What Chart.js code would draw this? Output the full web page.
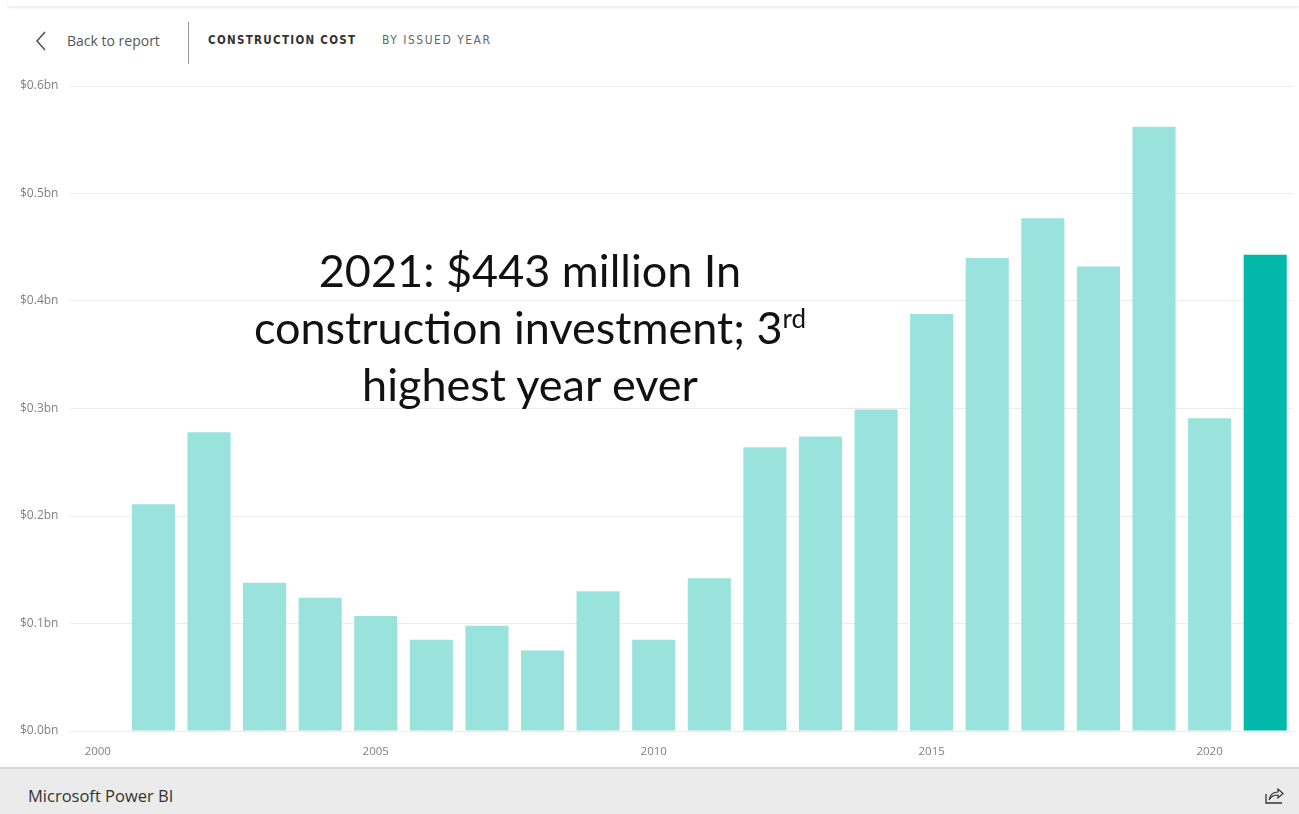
<!DOCTYPE html>
<html>
<head>
<meta charset="utf-8">
<title>Construction cost by issued year</title>
<script src="https://cdn.jsdelivr.net/npm/chart.js@4.4.1/dist/chart.umd.min.js"></script>
<style>
	html, body {
		margin: 0;
		padding: 0;
		width: 1299px;
		height: 814px;
		background: #fff;
		overflow: hidden;
		font-family: "Open Sans", "Noto Sans", sans-serif;
	}
	.top-shadow {
		position: absolute;
		left: 8px;
		right: 0;
		top: 0;
		height: 6px;
		background: #fff;
		box-shadow: 0 2px 3px rgba(0,0,0,0.08);
	}
	.header {
		position: absolute;
		left: 0;
		top: 22px;
		height: 42px;
		width: 100%;
	}
	.back {
		position: absolute;
		left: 34px;
		top: 8px;
		width: 16px;
		height: 22px;
	}
	.back-text {
		position: absolute;
		left: 67px;
		top: 9px;
		font-size: 14px;
		color: #555;
	}
	.divider {
		position: absolute;
		left: 188px;
		top: 0;
		width: 1px;
		height: 42px;
		background: #9a9a9a;
	}
	.title {
		position: absolute;
		left: 208px;
		top: 11px;
		font-family: "DejaVu Sans Condensed", "Roboto", sans-serif;
		font-size: 11.5px;
		font-weight: bold;
		letter-spacing: 1.3px;
		color: #333;
	}
	.subtitle {
		position: absolute;
		left: 382px;
		top: 11px;
		font-family: "DejaVu Sans Condensed", "Roboto", sans-serif;
		font-size: 12px;
		letter-spacing: 1.5px;
		color: #666;
	}
	#chart-wrap {
		position: absolute;
		left: 0;
		top: 70px;
		width: 1299px;
		height: 698px;
	}
	.note {
		position: absolute;
		left: 230px;
		width: 600px;
		top: 242px;
		text-align: center;
		font-family: "Lato", "Open Sans", sans-serif;
		font-size: 45px;
		line-height: 57px;
		color: #111;
	}
	.note sup {
		font-size: 26px;
		line-height: 0;
		vertical-align: 16px;
	}
	.footer {
		position: absolute;
		left: 0;
		top: 767px;
		width: 1299px;
		height: 47px;
		background: #ebebeb;
		border-top: 2px solid #d8d8d8;
	}
	.footer-text {
		position: absolute;
		left: 28px;
		top: 15px;
		font-size: 16.5px;
		color: #333;
	}
	.share {
		position: absolute;
		left: 1264px;
		top: 16px;
		width: 20px;
		height: 20px;
	}
</style>
</head>
<body>
<div class="top-shadow"></div>
<div class="header">
	<svg class="back" viewBox="0 0 16 22"><polyline points="11,2 3,11 11,20" fill="none" stroke="#555" stroke-width="1.6"/></svg>
	<div class="back-text">Back to report</div>
	<div class="divider"></div>
	<div class="title">CONSTRUCTION COST</div>
	<div class="subtitle">BY ISSUED YEAR</div>
</div>
<div id="chart-wrap"><canvas id="costChart"></canvas></div>
<div class="note">2021: $443 million In<br>construction investment; 3<sup>rd</sup><br>highest year ever</div>
<div class="footer">
	<div class="footer-text">Microsoft Power BI</div>
	<svg class="share" viewBox="0 0 20 20">
		<polyline points="2,9 2,18 18,18" fill="none" stroke="#333" stroke-width="1.3"/>
		<path d="M5,15 C6,9 10,7 14,7 L14,4 L19,8.5 L14,13 L14,10 C10,10 7,11 5,15 Z" fill="none" stroke="#333" stroke-width="1.2"/>
	</svg>
</div>

<script>
const years = ['2000', '2001', '2002', '2003', '2004', '2005', '2006', '2007', '2008', '2009', '2010',
	'2011', '2012', '2013', '2014', '2015', '2016', '2017', '2018', '2019', '2020', '2021'];
// construction cost in $bn, no bar for 2000
const costs = [null, 0.211, 0.278, 0.138, 0.124, 0.107, 0.085, 0.098, 0.075, 0.130, 0.085,
	0.142, 0.264, 0.274, 0.299, 0.388, 0.440, 0.477, 0.432, 0.562, 0.291, 0.443];
const yTicks = [0, 0.1, 0.2, 0.3, 0.4, 0.5, 0.6];
const labelledYears = ['2000', '2005', '2010', '2015', '2020'];
const highlightYear = '2021';

const barColor = '#99e3dc';
const highlightColor = '#01b8aa';

const ctx = document.getElementById('costChart').getContext('2d');
const costChart = new Chart(ctx, {
	type: 'bar',
	data: {
		labels: years,
		datasets: [{
			label: 'Construction cost',
			data: costs,
			backgroundColor: years.map(y => y === highlightYear ? highlightColor : barColor),
			borderWidth: 0,
			barPercentage: 0.775,
			categoryPercentage: 1
		}]
	},
	options: {
		responsive: true,
		maintainAspectRatio: false,
		animation: false,
		layout: {
			padding: { left: 20, right: 6, top: 16, bottom: 0 }
		},
		scales: {
			x: {
				grid: { display: false },
				border: { display: false },
				ticks: {
					autoSkip: false,
					maxRotation: 0,
					minRotation: 0,
					padding: 6,
					color: '#808080',
					font: { family: 'Open Sans', size: 11.5 },
					callback: function(value, index) {
						const y = years[index];
						return labelledYears.includes(y) ? y : '';
					}
				},
				afterFit: function(scale) {
					scale.height = 37;
				}
			},
			y: {
				min: 0,
				max: 0.6,
				border: { display: false },
				grid: {
					color: '#ececec',
					drawTicks: false
				},
				afterBuildTicks: function(scale) {
					scale.ticks = yTicks.map(v => ({ value: v }));
				},
				ticks: {
					crossAlign: 'far',
					color: '#808080',
					font: { family: 'Open Sans', size: 12 },
					callback: function(value) {
						return '$' + value.toFixed(1) + 'bn';
					}
				},
				afterFit: function(scale) {
					scale.width = 50;
				}
			}
		},
		plugins: {
			legend: { display: false },
			tooltip: { enabled: false }
		}
	}
});
</script>
</body>
</html>
